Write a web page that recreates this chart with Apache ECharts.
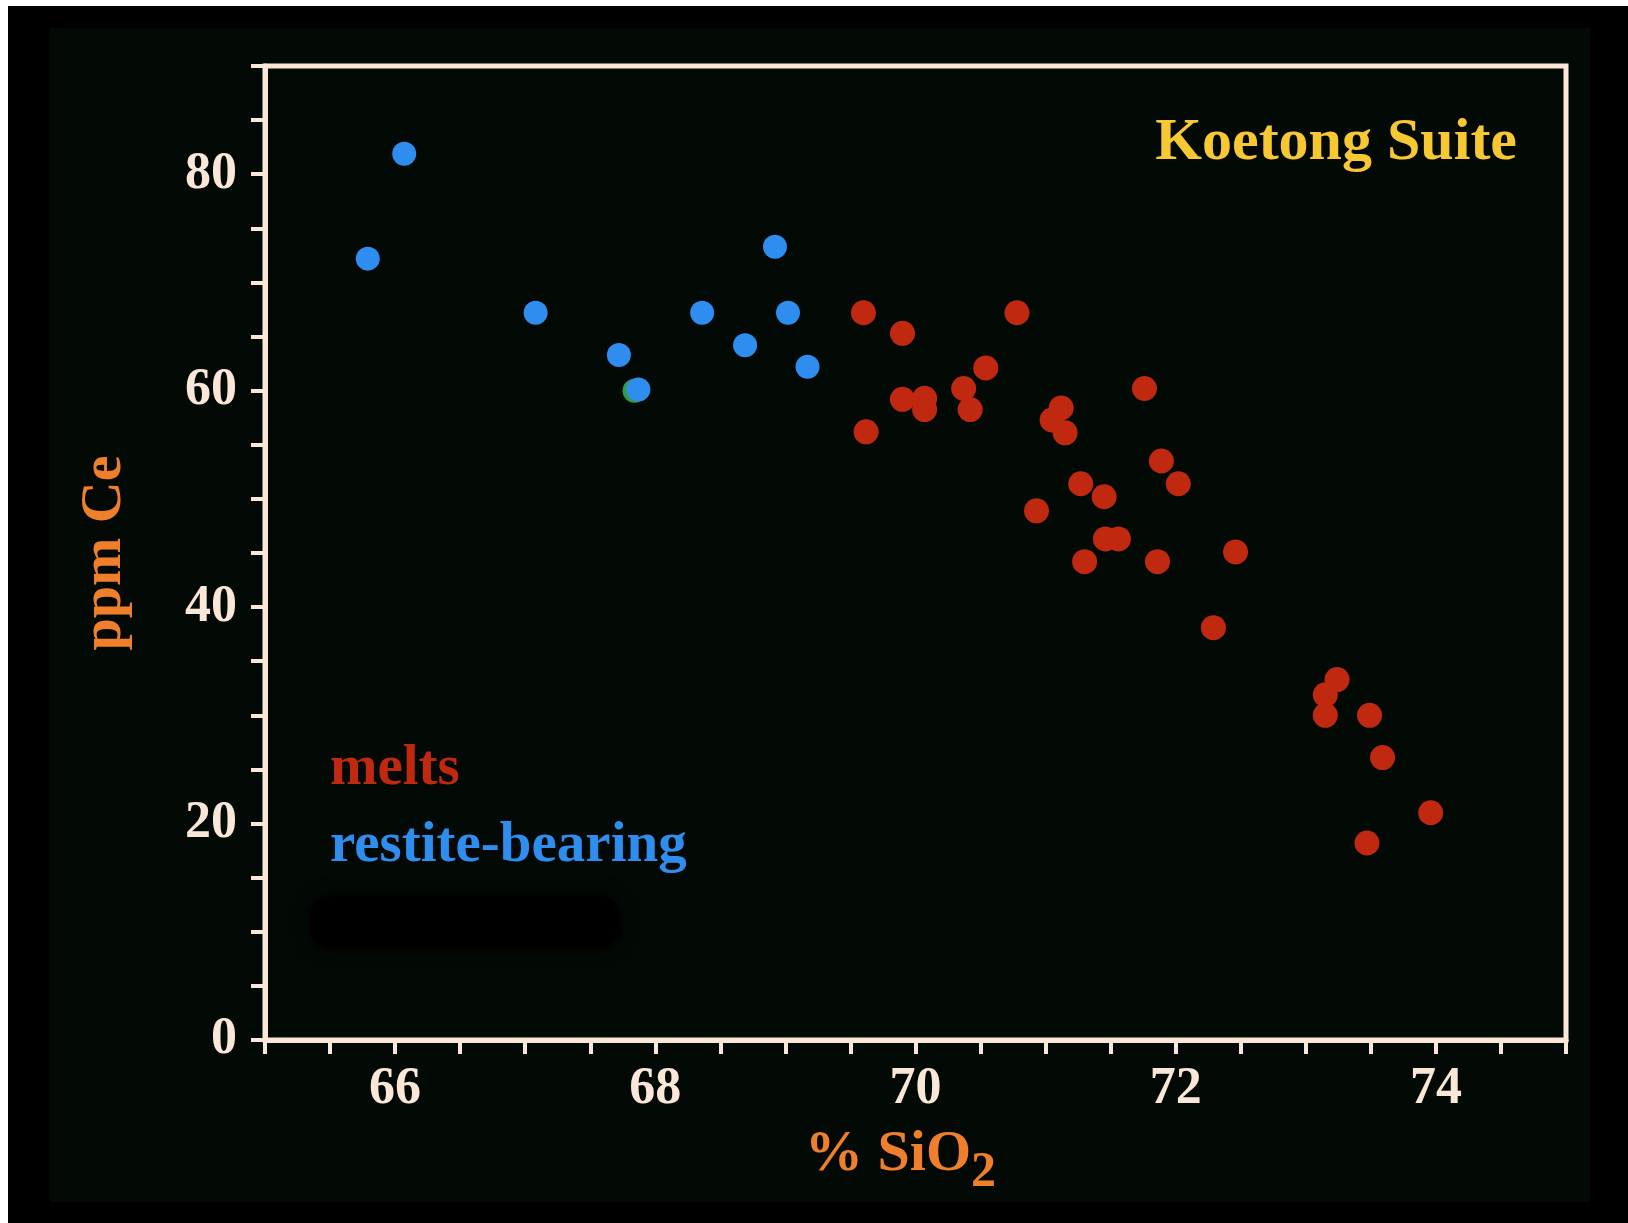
<!DOCTYPE html>
<html>
<head>
<meta charset="utf-8">
<title>Koetong Suite – Ce vs SiO2</title>
<script src="https://cdn.jsdelivr.net/npm/echarts@6/dist/echarts.min.js"></script>
<style>
  html, body { margin: 0; padding: 0; background: #ffffff; }
  #frame { position: absolute; left: 8px; top: 6px; width: 1620px; height: 1217px; background: #000000; }
  #slide { position: absolute; left: 50px; top: 28px; width: 1540px; height: 1174px; background: #030a05; }
  #chart { position: absolute; left: 0; top: 0; width: 1628px; height: 1223px; }
</style>
</head>
<body>
<div id="frame"></div>
<div id="slide"></div>
<div id="chart"></div>
<script>
// Koetong Suite granites: Ce (ppm) against SiO2 (wt %)
const meltsSiO2 = [69.60, 69.90, 70.78, 70.54, 70.37, 70.42, 69.90, 70.07, 70.07, 69.62,
                   71.76, 71.12, 71.05, 71.15, 71.89, 72.02, 71.27, 71.45, 70.93, 71.46,
                   71.56, 71.30, 71.86, 72.46, 72.29, 73.24, 73.15, 73.15, 73.49, 73.59,
                   73.96, 73.47];
const meltsCe    = [67.2, 65.3, 67.2, 62.1, 60.2, 58.25, 59.2, 59.3, 58.25, 56.2,
                    60.2, 58.4, 57.3, 56.1, 53.5, 51.4, 51.4, 50.2, 48.9, 46.3,
                    46.3, 44.2, 44.2, 45.1, 38.1, 33.3, 31.9, 30.0, 30.0, 26.1,
                    21.0, 18.2];

const restiteSiO2 = [65.79, 66.07, 67.08, 67.72, 67.87, 68.36, 68.69, 68.92, 69.02, 69.17];
const restiteCe   = [72.2, 81.9, 67.2, 63.3, 60.1, 67.2, 64.2, 73.3, 67.2, 62.2];

// single sample partly hidden under a restite-bearing point
const otherSiO2 = [67.84];
const otherCe   = [60.0];

const xLabelsEvery = 2;   // SiO2 tick labels: 66, 68, ... 74
const yLabelsEvery = 20;  // Ce tick labels: 0, 20, ... 80

const seriesNames = ['melts', 'restite-bearing'];
const titleText = 'Koetong Suite';

const zip = (xs, ys) => xs.map((x, i) => [x, ys[i]]);

const CREAM = '#fbe7d8';
const ORANGE = '#f07f2c';
const RED = '#c0290f';
const BLUE = '#2f8df0';
const YELLOW = '#f8c832';
const SERIF = '"Liberation Serif", "DejaVu Serif", serif';

const chart = echarts.init(document.getElementById('chart'), null, { renderer: 'canvas' });

chart.setOption({
  backgroundColor: 'transparent',
  animation: false,
  grid: {
    left: 265, top: 66, right: 62, bottom: 183,
    show: true,
    borderColor: CREAM,
    borderWidth: 5,
    backgroundColor: 'transparent'
  },
  xAxis: {
    type: 'value',
    min: 65, max: 75, interval: 0.5,
    name: '% SiO{sub|2}',
    nameLocation: 'middle',
    nameGap: 72,
    nameTextStyle: {
      color: ORANGE, fontFamily: SERIF, fontWeight: 'bold', fontSize: 58,
      padding: [0, 30, 0, 0],
      rich: {
        sub: { color: ORANGE, fontFamily: SERIF, fontWeight: 'bold', fontSize: 50, padding: [36, 0, 0, 0] }
      }
    },
    axisLine: { show: true, lineStyle: { color: CREAM, width: 5 } },
    axisTick: { show: true, inside: false, length: 14, lineStyle: { color: CREAM, width: 4 } },
    axisLabel: {
      color: CREAM, fontFamily: SERIF, fontWeight: 'bold', fontSize: 52, margin: 24,
      formatter: v => (Math.abs(v % xLabelsEvery) < 1e-9 ? String(v) : '')
    },
    splitLine: { show: false }
  },
  yAxis: {
    type: 'value',
    min: 0, max: 90, interval: 5,
    name: 'ppm Ce',
    nameLocation: 'middle',
    nameRotate: 90,
    nameGap: 131,
    nameTextStyle: { color: ORANGE, fontFamily: SERIF, fontWeight: 'bold', fontSize: 58 },
    axisLine: { show: true, lineStyle: { color: CREAM, width: 5 } },
    axisTick: { show: true, inside: false, length: 14, lineStyle: { color: CREAM, width: 4 } },
    axisLabel: {
      color: CREAM, fontFamily: SERIF, fontWeight: 'bold', fontSize: 52, margin: 28,
      formatter: v => (v % yLabelsEvery === 0 ? String(v) : '')
    },
    splitLine: { show: false }
  },
  series: [
    {
      name: 'other',
      type: 'scatter',
      data: zip(otherSiO2, otherCe),
      symbolSize: 24,
      itemStyle: { color: '#3fbf55' },
      z: 1
    },
    {
      name: seriesNames[1],
      type: 'scatter',
      data: zip(restiteSiO2, restiteCe),
      symbolSize: 24,
      itemStyle: { color: BLUE, opacity: 1 },
      z: 2
    },
    {
      name: seriesNames[0],
      type: 'scatter',
      data: zip(meltsSiO2, meltsCe),
      symbolSize: 25,
      itemStyle: { color: RED, opacity: 1 },
      z: 3
    }
  ],
  graphic: [
    // erased third key entry
    {
      type: 'rect', z: 0, silent: true,
      shape: { x: 310, y: 896, width: 310, height: 52, r: 20 },
      style: { fill: '#000000', shadowBlur: 18, shadowColor: '#000000' }
    },
    {
      type: 'text', right: 1628 - 1517, top: 113, z: 10,
      style: { text: titleText, fill: YELLOW, font: 'bold 60px ' + SERIF }
    },
    {
      type: 'text', left: 330, top: 741, z: 10,
      style: { text: seriesNames[0], fill: RED, font: 'bold 57px ' + SERIF }
    },
    {
      type: 'text', left: 330, top: 818, z: 10,
      style: { text: seriesNames[1], fill: BLUE, font: 'bold 57px ' + SERIF }
    }
  ]
});
</script>
</body>
</html>
